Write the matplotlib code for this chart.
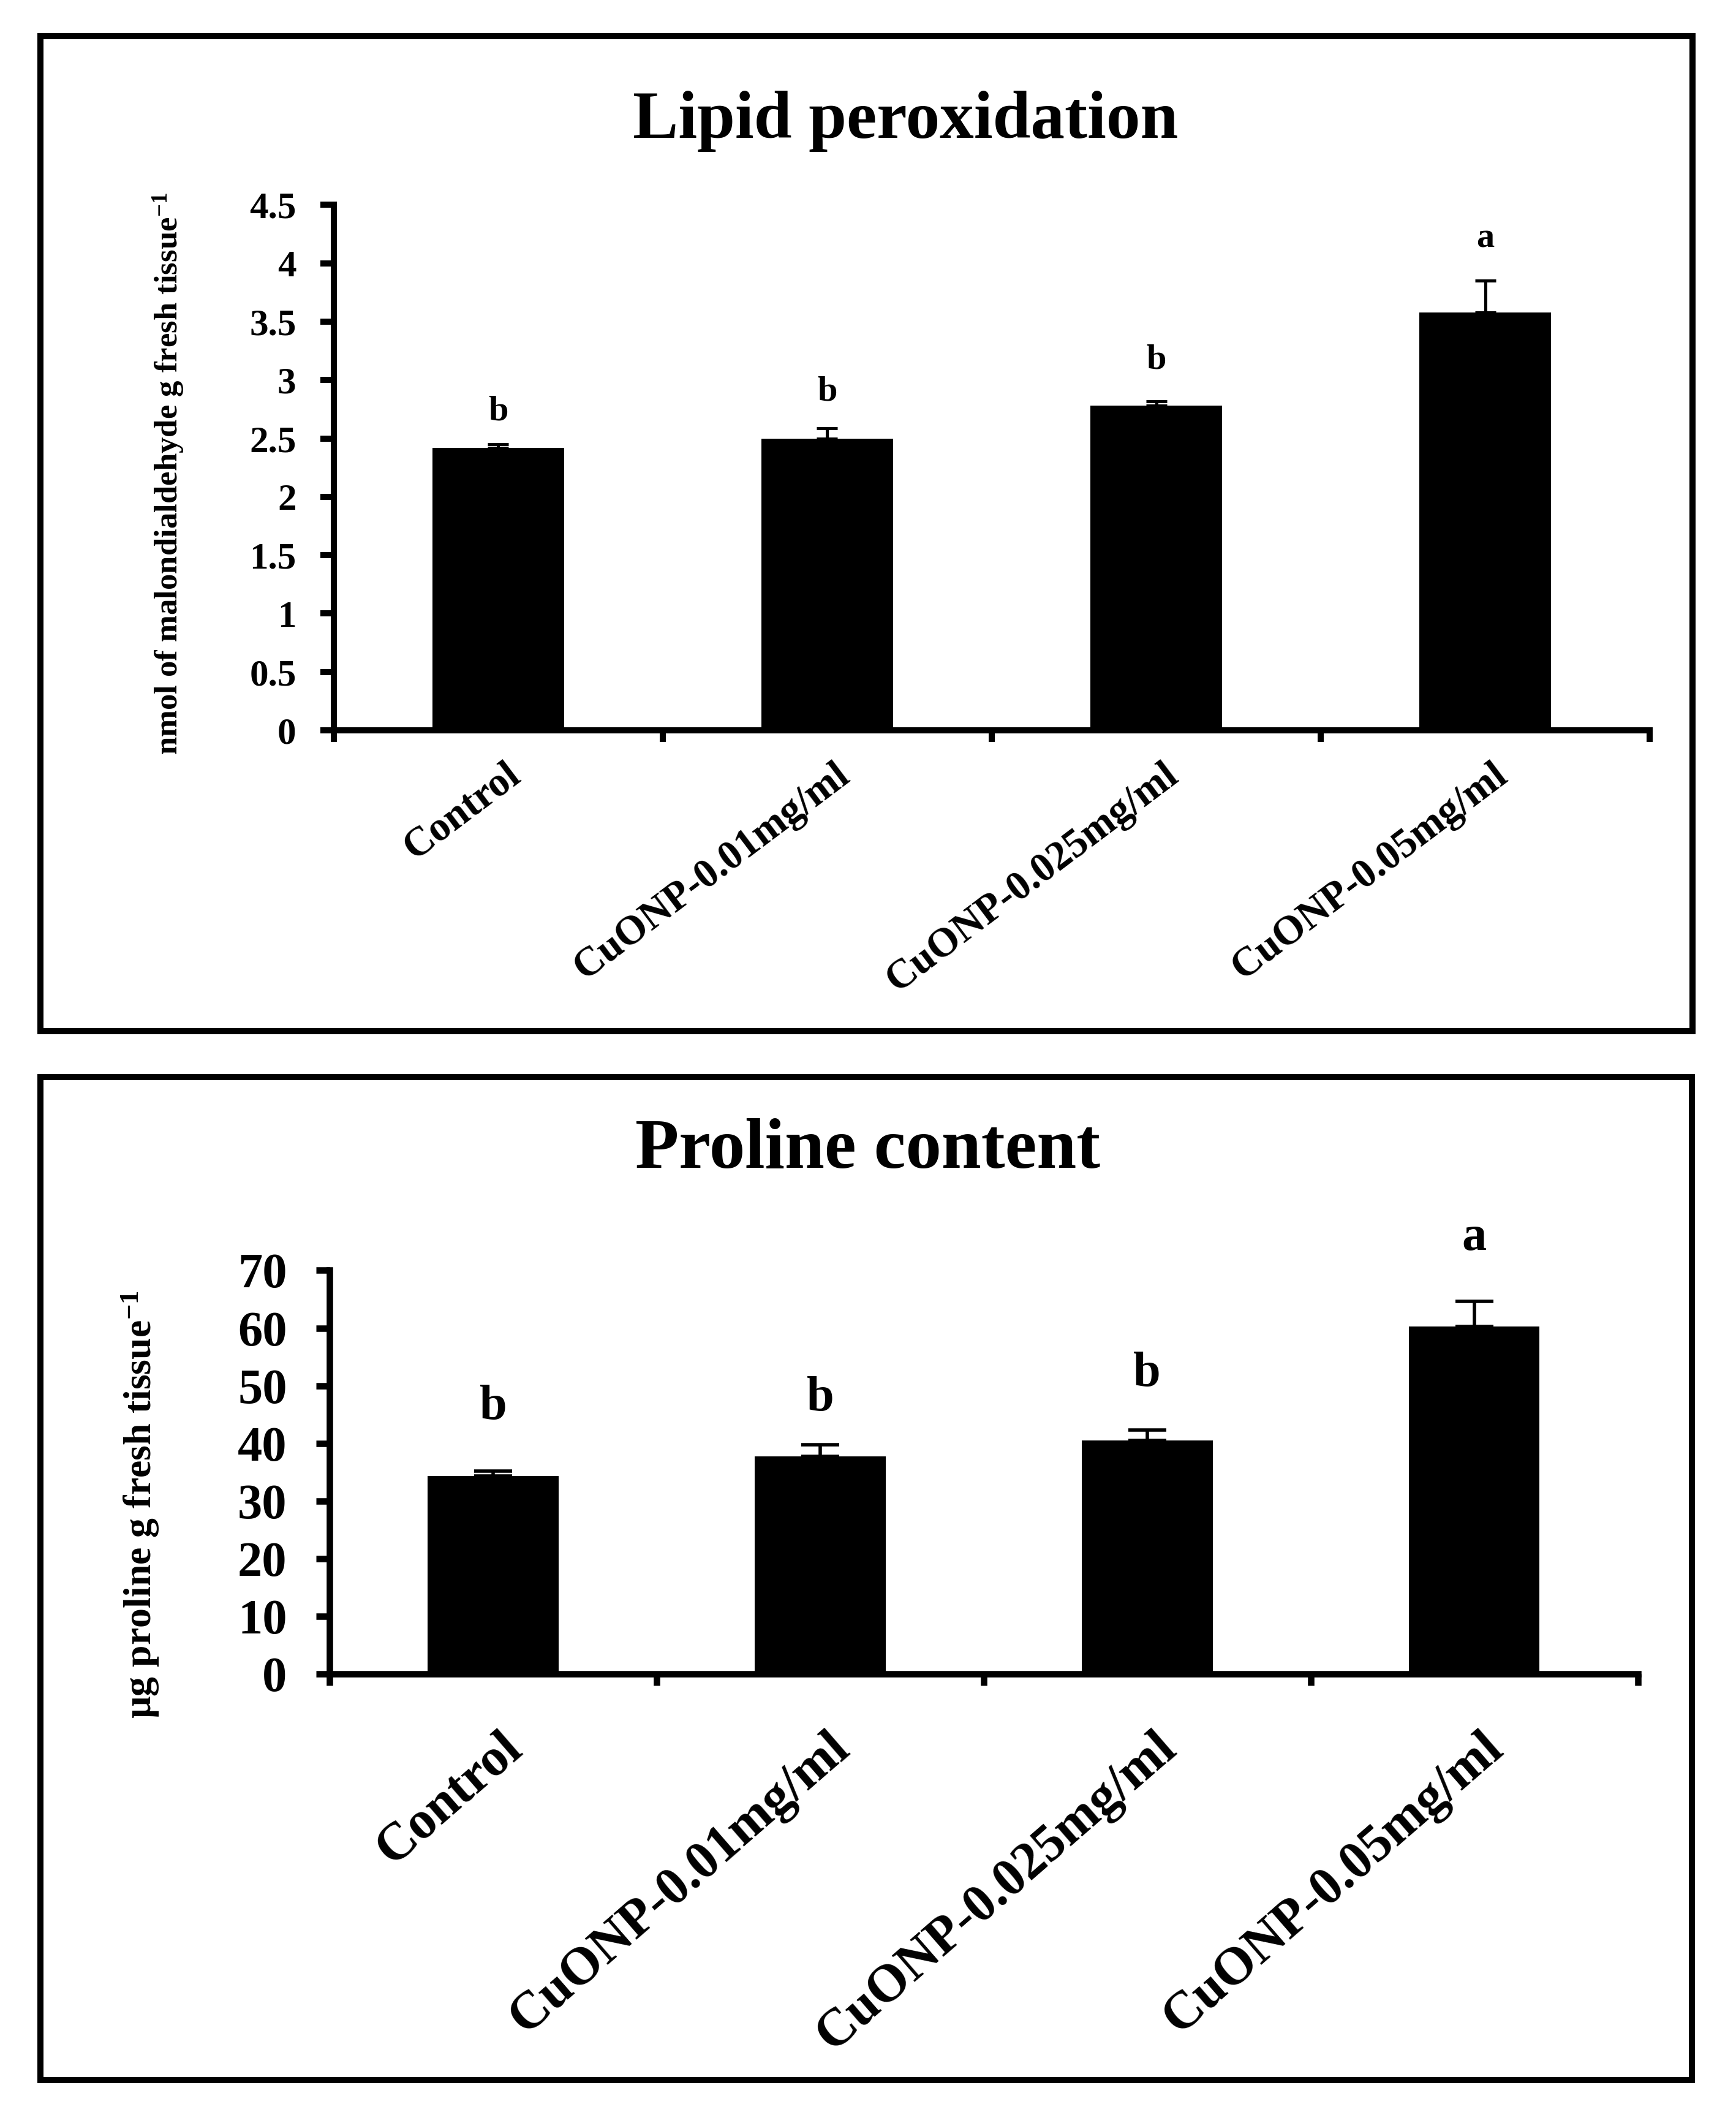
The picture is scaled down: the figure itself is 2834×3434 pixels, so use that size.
import numpy as np
import matplotlib
matplotlib.use("Agg")
import matplotlib.pyplot as plt
from matplotlib.patches import Rectangle
from matplotlib.ticker import FormatStrFormatter

plt.rcParams['font.family'] = 'Liberation Serif'
plt.rcParams['font.weight'] = 'bold'
plt.rcParams['mathtext.fontset'] = 'custom'
plt.rcParams['mathtext.rm'] = 'Liberation Serif:bold'
plt.rcParams['mathtext.it'] = 'Liberation Serif:italic:bold'
plt.rcParams['mathtext.bf'] = 'Liberation Serif:bold'

categories = ["Control", "CuONP-0.01mg/ml", "CuONP-0.025mg/ml", "CuONP-0.05mg/ml"]

# lipid peroxidation (nmol MDA / g fresh tissue)
mda_mean = [2.42, 2.50, 2.78, 3.58]
mda_err = [0.03, 0.085, 0.04, 0.27]
mda_letters = ["b", "b", "b", "a"]
mda_letter_y = [2.73, 2.90, 3.17, 4.21]

# proline content (ug / g fresh tissue)
proline_mean = [34.3, 37.7, 40.5, 60.3]
proline_err = [0.9, 2.1, 1.8, 4.3]
proline_letters = ["b", "b", "b", "a"]
proline_letter_y = [46.3, 47.8, 52.0, 75.6]


def draw_panel(ax, means, errs, letters, letter_y, ymax, ystep, st):
    x = np.arange(len(categories))
    ax.bar(x, means, width=0.4, color='black', zorder=2)
    ax.errorbar(x, means, yerr=[np.zeros(len(errs)), errs], fmt='none',
                ecolor='black', elinewidth=st['elw'], capsize=st['cap'],
                capthick=st['elw'], zorder=3)
    for xi, lab, ly in zip(x, letters, letter_y):
        ax.text(xi, ly, lab, ha='center', va='center',
                fontsize=st['letter'], fontweight='bold')

    ax.set_xlim(-0.5, len(categories) - 0.5)
    ax.set_ylim(0, ymax)
    ax.set_yticks(np.arange(0, ymax + ystep / 2, ystep))
    ax.yaxis.set_major_formatter(FormatStrFormatter('%g'))

    for s in ['top', 'right']:
        ax.spines[s].set_visible(False)
    for s in ['left', 'bottom']:
        ax.spines[s].set_linewidth(st['spine'])

    ax.tick_params(axis='y', direction='out', length=8, width=st['spine'],
                   pad=st['ypad'], labelsize=st['ytick'])
    # category ticks sit between the bars, labels are placed separately
    ax.set_xticks(x)
    ax.set_xticklabels([])
    ax.tick_params(axis='x', which='major', length=0)
    ax.set_xticks(np.arange(-0.5, len(categories), 1.0), minor=True)
    ax.tick_params(axis='x', which='minor', direction='out', length=7,
                   width=st['spine'])

    for xi, cat in zip(x, categories):
        ax.annotate(cat, xy=(xi, 0), xycoords=('data', 'axes fraction'),
                    xytext=st['xoff'], textcoords='offset points',
                    ha='right', va='top', rotation=st['rot'],
                    rotation_mode='anchor', fontsize=st['xtick'],
                    fontweight='bold')


fig = plt.figure(figsize=(14.17, 17.17), dpi=200)

# frames around each panel
for (x0, y0, x1, y1) in [(0.0233, 0.5099, 0.9750, 0.9827),
                         (0.0233, 0.0115, 0.9745, 0.4882)]:
    fig.add_artist(Rectangle((x0, y0), x1 - x0, y1 - y0, transform=fig.transFigure,
                             fill=False, edgecolor='black', linewidth=3.6))

top_style = dict(elw=1.8, cap=6, letter=21, spine=3.6, ypad=14, ytick=22,
                 xtick=24, rot=37, xoff=(4, -15))
bot_style = dict(elw=2.0, cap=11, letter=29, spine=3.8, ypad=17, ytick=29,
                 xtick=31, rot=41, xoff=(4, -29))

ax1 = fig.add_axes([0.1922, 0.6529, 0.9504 - 0.1922, 0.9026 - 0.6529])
draw_panel(ax1, mda_mean, mda_err, mda_letters, mda_letter_y, 4.5, 0.5, top_style)
fig.text(0.5217, 0.9424, "Lipid peroxidation", ha='center', va='center',
         fontsize=40, fontweight='bold')
fig.text(0.097, 0.775, r"nmol of malondialdehyde g fresh tissue$^{-1}$",
         rotation=90, ha='center', va='center', fontsize=19, fontweight='bold')

ax2 = fig.add_axes([0.1899, 0.2044, 0.9434 - 0.1899, 0.3962 - 0.2044])
draw_panel(ax2, proline_mean, proline_err, proline_letters, proline_letter_y,
           70, 10, bot_style)
fig.text(0.5, 0.453, "Proline content", ha='center', va='center',
         fontsize=42, fontweight='bold')
fig.text(0.081, 0.285, r"µg proline g fresh tissue$^{-1}$",
         rotation=90, ha='center', va='center', fontsize=23, fontweight='bold')

fig.savefig("out.png", dpi=200, facecolor='white')
